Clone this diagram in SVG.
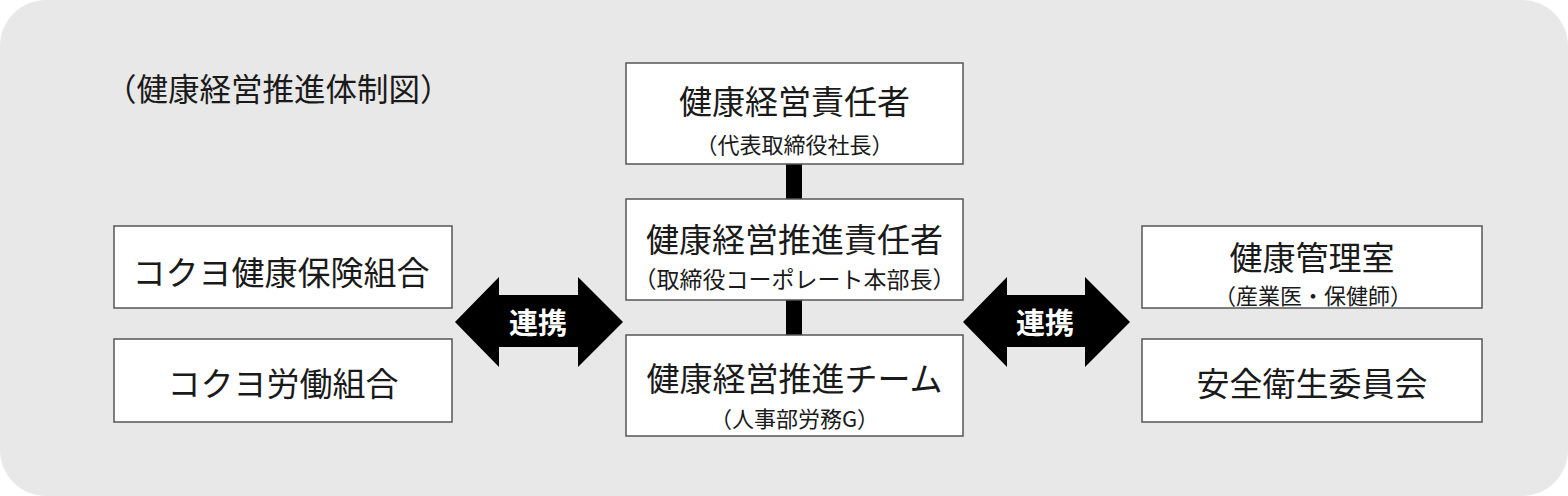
<svg xmlns="http://www.w3.org/2000/svg" width="1568" height="496" viewBox="0 0 1568 496">
<defs>
<style>
.bg{fill:#e8e8e8}
.box{fill:#ffffff;stroke:#555555;stroke-width:1.5}
.t{font-family:"Noto Sans CJK JP","Noto Sans CJK SC",sans-serif;fill:#1a1a1a;text-anchor:middle;dominant-baseline:central}
.main{font-size:33px}
.sub{font-size:21px}
.lnk{font-family:"Noto Sans CJK JP","Noto Sans CJK SC",sans-serif;fill:#ffffff;font-size:29px;font-weight:bold;text-anchor:middle;dominant-baseline:central}
.bar{fill:#000000}
</style>
</defs>
<rect x="0" y="0" width="1568" height="496" fill="#ffffff"/>
<rect class="bg" x="0" y="0" width="1568" height="496" rx="46" ry="46"/>
<text class="t" x="105" y="87" style="font-size:31.5px;text-anchor:start">（健康経営推進体制図）</text>
<g id="connectors">
<rect class="bar" x="786" y="164" width="16" height="35"/>
<rect class="bar" x="786" y="300" width="16" height="35"/>
<polygon class="bar" points="455,322 499,277 499,295 578,295 578,277 623,322 578,367 578,347 499,347 499,367"/>
<text class="lnk" x="538" y="321">連携</text>
<polygon class="bar" points="963,322 1007,277 1007,295 1085,295 1085,277 1130,322 1085,367 1085,347 1007,347 1007,367"/>
<text class="lnk" x="1045" y="321">連携</text>
</g>
<g id="ceo">
<rect class="box" x="626" y="63" width="337" height="101"/>
<text class="t main" x="794.5" y="100">健康経営責任者</text>
<text class="t sub" x="794.5" y="143" style="font-size:22px">（代表取締役社長）</text>
</g>
<g id="promo-head">
<rect class="box" x="626" y="199" width="337" height="101"/>
<text class="t main" x="794.5" y="238">健康経営推進責任者</text>
<text class="t sub" x="794.5" y="278" style="font-size:23px">（取締役コーポレート本部長）</text>
</g>
<g id="promo-team">
<rect class="box" x="626" y="335" width="337" height="101"/>
<text class="t main" x="794.5" y="377">健康経営推進チーム</text>
<text class="t sub" x="794.5" y="417" style="font-size:22px">（人事部労務G）</text>
</g>
<g id="kenpo">
<rect class="box" x="114" y="226" width="338" height="82"/>
<text class="t main" x="281" y="271">コクヨ健康保険組合</text>
</g>
<g id="union">
<rect class="box" x="114" y="339" width="338" height="83"/>
<text class="t main" x="283" y="382">コクヨ労働組合</text>
</g>
<g id="health-room">
<rect class="box" x="1142" y="226" width="340" height="82"/>
<text class="t main" x="1312" y="256">健康管理室</text>
<text class="t sub" x="1313" y="294" style="font-size:22px">（産業医・保健師）</text>
</g>
<g id="safety">
<rect class="box" x="1142" y="339" width="340" height="83"/>
<text class="t main" x="1312" y="382">安全衛生委員会</text>
</g>
</svg>
